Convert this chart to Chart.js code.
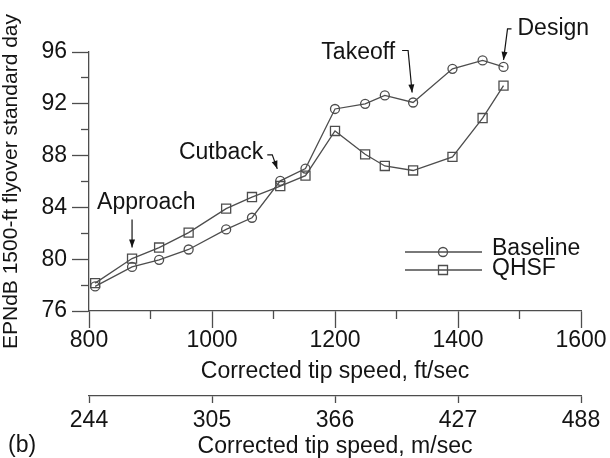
<!DOCTYPE html>
<html>
<head>
<meta charset="utf-8">
<script src="https://cdn.jsdelivr.net/npm/chart.js@4.4.1/dist/chart.umd.min.js"></script>
<style>
  html, body { margin: 0; padding: 0; background: #fff; }
  canvas { display: block; }
</style>
</head>
<body>
<canvas id="chart" width="610" height="458"></canvas>
<script>
// corrected tip speed, ft/sec (same test points for both fans)
const tipSpeed = [810, 870, 914, 962, 1023, 1065, 1111, 1152, 1200, 1249, 1281, 1327, 1391, 1440, 1474];
// EPNdB, 1500-ft flyover, standard day
const baseline = [77.9, 79.4, 79.95, 80.75, 82.3, 83.2, 86.05, 87.0, 91.6, 92.0, 92.65, 92.1, 94.7, 95.35, 94.85];
const qhsf = [78.15, 80.05, 80.9, 82.05, 83.9, 84.8, 85.65, 86.45, 89.9, 88.1, 87.2, 86.85, 87.9, 90.9, 93.4];

const ftMajor = [800, 1000, 1200, 1400, 1600];
const ftMinor = [900, 1100, 1300, 1500];
const metricLabels = ['244', '305', '366', '427', '488'];
const dbMajor = [76, 80, 84, 88, 92, 96];
const dbMinor = [78, 82, 86, 90, 94];

const INK = '#141414';
const GRAY = '#4d4d4d';
const FONT = "'Liberation Sans', Arial, sans-serif";

const fixTicks = values => scale => { scale.ticks = values.map(v => ({ value: v })); };
const font = size => ({ family: FONT, size: size, lineHeight: 1 });
const plain = v => String(v);

// operating-point callouts, offsets relative to the marker they point at
const notes = [
  { text: 'Approach', series: qhsf, index: 1, align: 'left', label: [-35, -56], path: [[0, -39], [0, -11]] },
  { text: 'Cutback', series: baseline, index: 6, align: 'right', label: [-17, -28], path: [[-13, -26], [-8, -26], [-3, -12]] },
  { text: 'Takeoff', series: baseline, index: 11, align: 'right', label: [-18, -50], path: [[-11, -52], [-5, -52], [-1, -10]] },
  { text: 'Design', series: baseline, index: 14, align: 'left', label: [14, -38], path: [[8, -38], [4, -38], [0, -7]] }
];

function arrowHead(ctx, from, to) {
  const a = Math.atan2(to[1] - from[1], to[0] - from[0]);
  const len = 8, w = 3;
  ctx.beginPath();
  ctx.moveTo(to[0], to[1]);
  ctx.lineTo(to[0] - len * Math.cos(a) + w * Math.sin(a), to[1] - len * Math.sin(a) - w * Math.cos(a));
  ctx.lineTo(to[0] - len * Math.cos(a) - w * Math.sin(a), to[1] - len * Math.sin(a) + w * Math.cos(a));
  ctx.closePath();
  ctx.fill();
}

function marker(ctx, style, x, y) {
  ctx.beginPath();
  if (style === 'rect') ctx.rect(x - 4.5, y - 4.5, 9, 9);
  else ctx.arc(x, y, 4.5, 0, Math.PI * 2);
  ctx.stroke();
}

const extras = {
  id: 'extras',
  afterDatasetsDraw(chart) {
    const { ctx, scales: { x, y } } = chart;
    ctx.save();
    ctx.font = `23px ${FONT}`;
    ctx.fillStyle = INK;
    ctx.strokeStyle = INK;
    ctx.lineWidth = 1.2;
    ctx.textBaseline = 'middle';

    notes.forEach(n => {
      const px = x.getPixelForValue(tipSpeed[n.index]);
      const py = y.getPixelForValue(n.series[n.index]);
      const pts = n.path.map(([dx, dy]) => [px + dx, py + dy]);
      ctx.beginPath();
      pts.forEach(([a, b], i) => (i ? ctx.lineTo(a, b) : ctx.moveTo(a, b)));
      ctx.stroke();
      arrowHead(ctx, pts[pts.length - 2], pts[pts.length - 1]);
      ctx.textAlign = n.align;
      ctx.fillText(n.text, px + n.label[0], py + n.label[1]);
    });

    // legend
    chart.data.datasets.forEach((ds, i) => {
      const ly = 252 + i * 18;
      ctx.strokeStyle = ds.borderColor;
      ctx.lineWidth = ds.borderWidth;
      ctx.beginPath();
      ctx.moveTo(405, ly);
      ctx.lineTo(482, ly);
      ctx.stroke();
      marker(ctx, ds.pointStyle, 443, ly);
      ctx.textAlign = 'left';
      ctx.fillText(ds.label, 492, ly - 3 + i * 2);
    });

    ctx.textAlign = 'left';
    ctx.fillText('(b)', 8, 446);
    ctx.restore();
  }
};

new Chart(document.getElementById('chart'), {
  type: 'line',
  data: {
    datasets: [
      {
        label: 'Baseline',
        data: tipSpeed.map((v, i) => ({ x: v, y: baseline[i] })),
        borderColor: GRAY, borderWidth: 1.3,
        pointStyle: 'circle', pointRadius: 4.5,
        pointBorderColor: GRAY, pointBorderWidth: 1.3,
        pointBackgroundColor: 'rgba(0,0,0,0)',
        tension: 0
      },
      {
        label: 'QHSF',
        data: tipSpeed.map((v, i) => ({ x: v, y: qhsf[i] })),
        borderColor: GRAY, borderWidth: 1.3,
        pointStyle: 'rect', pointRadius: 6.4,
        pointBorderColor: GRAY, pointBorderWidth: 1.3,
        pointBackgroundColor: 'rgba(0,0,0,0)',
        tension: 0
      }
    ]
  },
  options: {
    responsive: false,
    animation: false,
    devicePixelRatio: 1,
    events: [],
    layout: { padding: { left: 0, top: 52, right: 29, bottom: 0 } },
    plugins: { legend: { display: false }, tooltip: { enabled: false } },
    scales: {
      x: {
        type: 'linear', position: 'bottom', weight: 0, min: 800, max: 1600,
        afterBuildTicks: fixTicks(ftMajor),
        afterFit: s => { s.height = 85; },
        grid: { drawOnChartArea: false, tickLength: 17, tickColor: GRAY, tickWidth: 1.3 },
        border: { color: GRAY, width: 1.3 },
        ticks: { color: INK, font: font(23), padding: 1, maxRotation: 0, autoSkip: false, callback: plain },
        title: { display: true, text: 'Corrected tip speed, ft/sec', color: INK, font: font(23), padding: { top: 0, bottom: 13 } }
      },
      xm: {
        type: 'linear', position: 'bottom', weight: 1, min: 800, max: 1600,
        afterBuildTicks: fixTicks(ftMajor),
        afterFit: s => { s.height = 62; },
        grid: { drawOnChartArea: false, tickLength: 7, tickColor: GRAY, tickWidth: 1.3 },
        border: { color: GRAY, width: 1.3 },
        ticks: { color: INK, font: font(23), padding: 6, maxRotation: 0, autoSkip: false,
                 callback: (v, i) => metricLabels[i] },
        title: { display: true, text: 'Corrected tip speed, m/sec', color: INK, font: font(23), padding: { top: 0, bottom: 0 } }
      },
      xMinor: {
        type: 'linear', position: { y: 76 }, min: 800, max: 1600,
        afterBuildTicks: fixTicks(ftMinor),
        grid: { drawOnChartArea: false, tickLength: 8, tickColor: GRAY, tickWidth: 1.3 },
        border: { display: false },
        ticks: { callback: () => '' }
      },
      y: {
        type: 'linear', position: 'left', min: 76, max: 96,
        afterBuildTicks: fixTicks(dbMajor),
        afterFit: s => { s.width = 89; },
        grid: { drawOnChartArea: false, tickLength: 17, tickColor: GRAY, tickWidth: 1.3 },
        border: { color: GRAY, width: 1.3 },
        ticks: { color: INK, font: font(23), padding: 5, autoSkip: false, callback: plain },
        title: { display: true, text: 'EPNdB 1500-ft flyover standard day', color: INK, font: font(21), padding: { top: 1, bottom: 0 } }
      },
      yMinor: {
        type: 'linear', position: { x: 800 }, min: 76, max: 96,
        afterBuildTicks: fixTicks(dbMinor),
        grid: { drawOnChartArea: false, tickLength: 8, tickColor: GRAY, tickWidth: 1.3 },
        border: { display: false },
        ticks: { callback: () => '' }
      }
    }
  },
  plugins: [extras]
});
</script>
</body>
</html>
